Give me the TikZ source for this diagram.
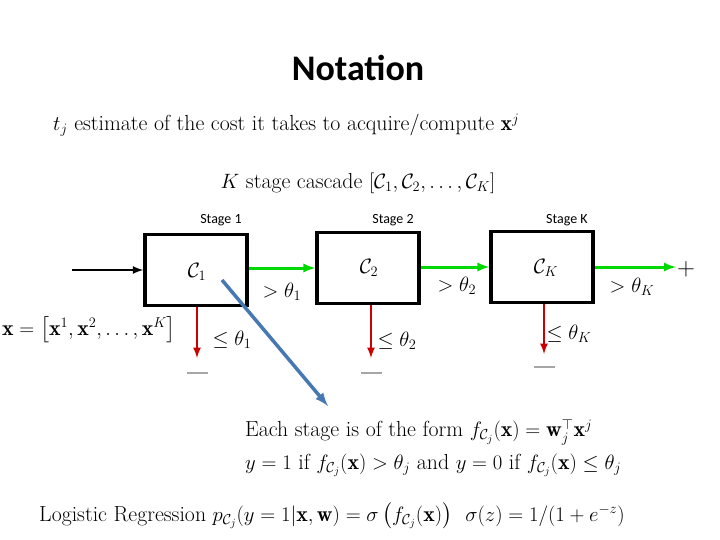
\documentclass[tikz,border=0pt]{standalone}
\usepackage{amsmath,amssymb}
\usepackage{fontspec}
\newfontfamily\carl{Carlito}
\begin{document}
\begin{tikzpicture}[x=1pt,y=-1pt,
  box/.style={draw,line width=3.5pt,minimum width=102pt,minimum height=71pt,inner sep=0},
  gr/.style={draw=green!85!black,line width=3pt,-latex},
  rd/.style={draw=red!80!black,line width=2.5pt,-latex},
  mt/.style={font=\fontsize{21.8}{24}\selectfont,inner sep=1pt},
  st/.style={font=\carl\fontsize{14}{16}\selectfont},
  minus/.style={draw=gray!70,line width=2.5pt}]
\useasboundingbox (0,0) rectangle (720,540);
\node[font=\carl\bfseries\fontsize{36}{40}\selectfont] (title) at (358,68) {Notation};
\node[mt,anchor=west] (tj) at (52,125) {$t_j$ estimate of the cost it takes to acquire/compute $\mathbf{x}^j$};
\node[mt] (casc) at (358,183) {$K$ stage cascade $[\mathcal{C}_1,\mathcal{C}_2,\ldots,\mathcal{C}_K]$};
\node[box] (b1) at (196,270) {};
\node[box] (b2) at (368,268) {};
\node[box] (b3) at (542,267) {};
\node[mt] (c1) at (197,272) {$\mathcal{C}_1$};
\node[mt] (c2) at (369,268) {$\mathcal{C}_2$};
\node[mt] (c3) at (546,268) {$\mathcal{C}_K$};
\node[st] (s1) at (221,220) {Stage 1};
\node[st] (s2) at (393,220) {Stage 2};
\node[st] (s3) at (567,220) {Stage K};
\coordinate (in) at (72,270);
\draw[line width=2.5pt,-latex] (in) -- (b1.west |- in);
\draw[gr] (b1.east |- 0,268) -- (b2.west |- 0,268);
\draw[gr] (b2.east |- 0,267) -- (b3.west |- 0,267);
\node[mt,font=\fontsize{26}{26}\selectfont] (plus) at (686,269) {$+$};
\draw[gr] (b3.east |- 0,267) -- (plus.west |- 0,267);
\node[mt] (g1) at (282,292) {$>\theta_1$};
\node[mt] (g2) at (457,286) {$>\theta_2$};
\node[mt] (g3) at (632,287) {$>\theta_K$};
\coordinate (m1) at (197,358);
\coordinate (m2) at (371,358);
\coordinate (m3) at (544,354);
\draw[rd] (b1.south -| m1) -- (m1);
\draw[rd] (b2.south -| m2) -- (m2);
\draw[rd] (b3.south -| m3) -- (m3);
\coordinate (n1a) at (187,373); \coordinate (n1b) at (208,373);
\coordinate (n2a) at (361,373); \coordinate (n2b) at (382,373);
\coordinate (n3a) at (534,367); \coordinate (n3b) at (555,367);
\draw[minus] (n1a) -- (n1b); \draw[minus] (n2a) -- (n2b); \draw[minus] (n3a) -- (n3b);
\node[mt] (l1) at (232,340) {$\leq\theta_1$};
\node[mt] (l2) at (397,341) {$\leq\theta_2$};
\node[mt] (l3) at (569,334) {$\leq\theta_K$};
\node[mt] (xv) at (89,330) {$\mathbf{x}=\left[\mathbf{x}^1,\mathbf{x}^2,\ldots,\mathbf{x}^K\right]$};
\coordinate (bs) at (222,280);
\node[mt,anchor=west] (e1) at (244,432) {Each stage is of the form $f_{\mathcal{C}_j}(\mathbf{x})=\mathbf{w}_j^\top\mathbf{x}^j$};
\draw[draw={rgb,255:red,70;green,120;blue,180},line width=3.5pt,-latex] (bs) -- (328,406);
\node[mt,anchor=west] (e2) at (244,465) {$y=1$ if $f_{\mathcal{C}_j}(\mathbf{x})>\theta_j$ and $y=0$ if $f_{\mathcal{C}_j}(\mathbf{x})\leq\theta_j$};
\node[mt,anchor=west] (e3) at (38,516) {Logistic Regression $p_{\mathcal{C}_j}(y=1|\mathbf{x},\mathbf{w})=\sigma\left(f_{\mathcal{C}_j}(\mathbf{x})\right)$~~$\sigma(z)=1/(1+e^{-z})$};
\end{tikzpicture}
\end{document}
